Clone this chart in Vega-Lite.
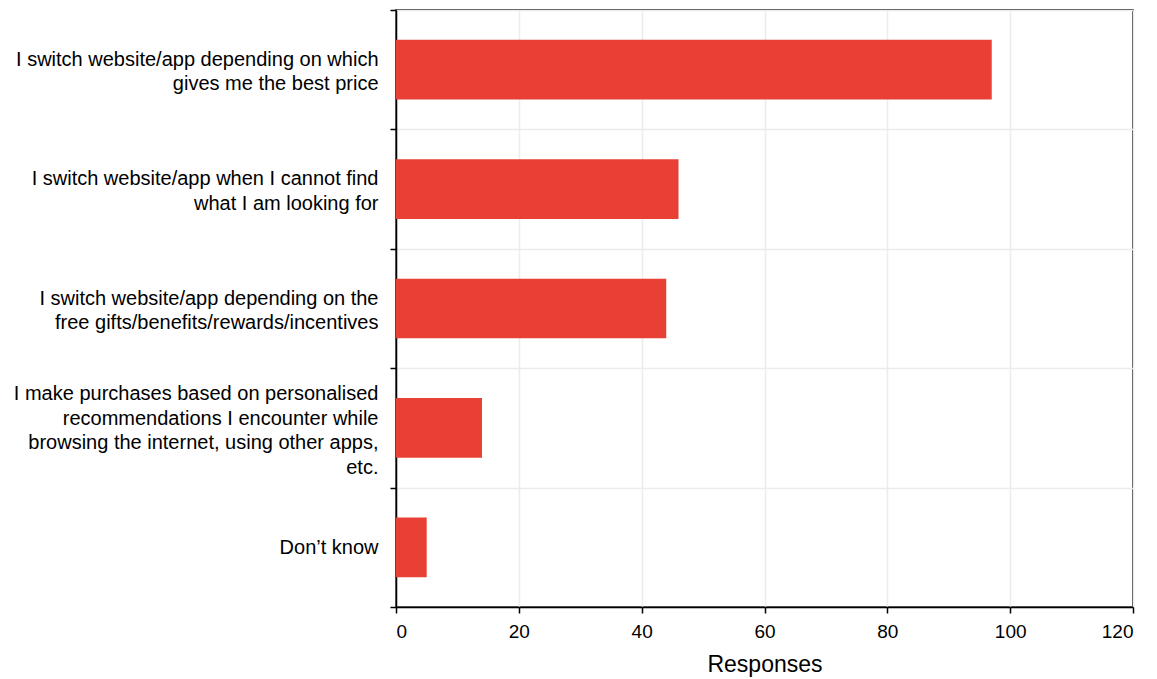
{
  "$schema": "https://vega.github.io/schema/vega-lite/v6.json",
  "width": 737,
  "height": 597,
  "padding": {"left": 396, "top": 10, "right": 24, "bottom": 72},
  "autosize": {"type": "none"},
  "background": "white",
  "config": {
    "font": "Liberation Sans",
    "view": {"stroke": "black", "strokeWidth": 1.5}
  },
  "data": {
    "values": [
      {"answer": "I switch website/app depending on which|gives me the best price", "responses": 97},
      {"answer": "I switch website/app when I cannot find|what I am looking for", "responses": 46},
      {"answer": "I switch website/app depending on the|free gifts/benefits/rewards/incentives", "responses": 44},
      {"answer": "I make purchases based on personalised|recommendations I encounter while|browsing the internet, using other apps,|etc.", "responses": 14},
      {"answer": "Don’t know", "responses": 5}
    ]
  },
  "mark": {"type": "bar", "color": "#E84035", "height": {"band": 0.5}},
  "encoding": {
    "y": {
      "field": "answer",
      "type": "nominal",
      "sort": null,
      "scale": {"paddingInner": 0, "paddingOuter": 0},
      "axis": {
        "title": null,
        "labelExpr": "split(datum.label, '|')",
        "labelFontSize": 20,
        "labelLineHeight": 24.5,
        "labelColor": "black",
        "labelPadding": 12,
        "labelLimit": 400,
        "labelOffset": {
          "condition": [
            {"test": "length(split(datum.value, '|')) == 4", "value": -34},
            {"test": "length(split(datum.value, '|')) == 2", "value": -10.5}
          ],
          "value": 0
        },
        "tickBand": "extent",
        "tickSize": 6,
        "tickColor": "black",
        "tickWidth": 1.5,
        "domainColor": "black",
        "domainWidth": 1.5,
        "grid": true,
        "gridColor": "#ececec",
        "gridWidth": 1.5
      }
    },
    "x": {
      "field": "responses",
      "type": "quantitative",
      "scale": {"domain": [0, 120], "nice": false},
      "axis": {
        "title": "Responses",
        "titleFontSize": 23,
        "titleFontWeight": "normal",
        "titleColor": "black",
        "titlePadding": 12,
        "values": [0, 20, 40, 60, 80, 100, 120],
        "labelFontSize": 19,
        "labelColor": "black",
        "labelPadding": 9,
        "tickSize": 6,
        "tickColor": "black",
        "tickWidth": 1.5,
        "domainColor": "black",
        "domainWidth": 1.5,
        "grid": true,
        "gridColor": "#ececec",
        "gridWidth": 1.5
      }
    }
  }
}
